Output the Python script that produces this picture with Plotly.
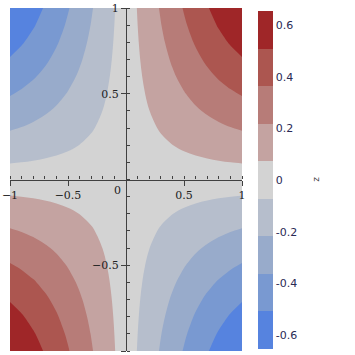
import plotly.graph_objects as go

# grid coordinates (x and y share them)
grid = [-1.0, -0.9, -0.8, -0.7, -0.6, -0.5, -0.4, -0.3, -0.2, -0.1, 0.0,
        0.1, 0.2, 0.3, 0.4, 0.5, 0.6, 0.7, 0.8, 0.9, 1.0]
# separable profile: z(x, y) = profile(x) * profile(y)
profile = [-0.841, -0.783, -0.717, -0.644, -0.565, -0.479, -0.389, -0.296, -0.199, -0.100, 0.0,
           0.100, 0.199, 0.296, 0.389, 0.479, 0.565, 0.644, 0.717, 0.783, 0.841]

# nine filled bands, low to high
band_colors = ["#5683DF", "#7999D1", "#98ABCB", "#B6BECC", "#D3D3D3",
               "#C4A3A1", "#B77C78", "#AC5650", "#9F2628"]
level_start, level_end, level_size = -0.5507, 0.5507, 0.15733
z_low, z_high = -0.708, 0.708

x_tick_vals = [-1, -0.5, 0.5, 1]
x_tick_text = ["\u22121", "\u22120.5", "0.5", "1"]
y_tick_vals = [-1, -0.5, 0.5, 1]
y_tick_text = ["\u22121", "\u22120.5", "0.5", "1"]
cbar_values = [-0.6, -0.4, -0.2, 0, 0.2, 0.4, 0.6]
cbar_text = ["-0.6", "-0.4", "-0.2", "0", "0.2", "0.4", "0.6"]
cbar_label_scale = 1.082  # where the reference draws its colorbar labels
cbar_title = "z"

z = [[py * px for px in profile] for py in profile]

n = len(band_colors)
colorscale = []
for k, c in enumerate(band_colors):
    colorscale.append([k / n, c])
    colorscale.append([(k + 1) / n, c])

fig = go.Figure(go.Contour(
    x=grid, y=grid, z=z,
    zmin=z_low, zmax=z_high, zauto=False,
    colorscale=colorscale,
    autocontour=False,
    contours=dict(start=level_start, end=level_end, size=level_size, coloring="fill"),
    line=dict(width=0, smoothing=1.0),
    colorbar=dict(
        x=1.069, xanchor="left", xpad=0,
        y=0.4985, yanchor="middle", ypad=0,
        len=338, lenmode="pixels", thickness=15,
        outlinewidth=0, ticks="",
        tickmode="array",
        tickvals=[v * cbar_label_scale for v in cbar_values],
        ticktext=cbar_text,
        tickfont=dict(family="DejaVu Sans", size=11, color="#2a2a55"),
    ),
    hoverinfo="skip",
))

axis_common = dict(
    range=[-1, 1], showgrid=False, zeroline=False, automargin=False,
    showline=True, linecolor="#404040", linewidth=1.3,
    ticks="outside", ticklen=5, tickcolor="#404040", tickwidth=1,
    tickfont=dict(family="DejaVu Serif", size=11, color="#222"),
    anchor="free", position=0.5,
    minor=dict(tickmode="linear", tick0=0, dtick=0.1, ticks="inside",
               ticklen=3, tickcolor="#404040", tickwidth=1),
)

fig.update_layout(
    width=355, height=355,
    margin=dict(l=10, r=113, t=8, b=4, autoexpand=False),
    paper_bgcolor="white", plot_bgcolor="white",
    xaxis=dict(axis_common, tickmode="array", tickvals=x_tick_vals, ticktext=x_tick_text, side="bottom"),
    yaxis=dict(axis_common, tickmode="array", tickvals=y_tick_vals, ticktext=y_tick_text, side="left"),
    showlegend=False,
)
fig.add_annotation(x=0, y=0, xref="x", yref="y", text="0", showarrow=False,
                   xanchor="right", yanchor="top", xshift=-3, yshift=-2,
                   font=dict(family="DejaVu Serif", size=11, color="#222"))
fig.add_annotation(x=1.323, y=0.4985, xref="paper", yref="paper", text=cbar_title,
                   showarrow=False, textangle=90, xanchor="center", yanchor="middle",
                   font=dict(family="DejaVu Sans", size=9, color="#333"))

fig.write_html("out.html", config={"displayModeBar": False},
               post_script="document.body.style.margin='0px';")
